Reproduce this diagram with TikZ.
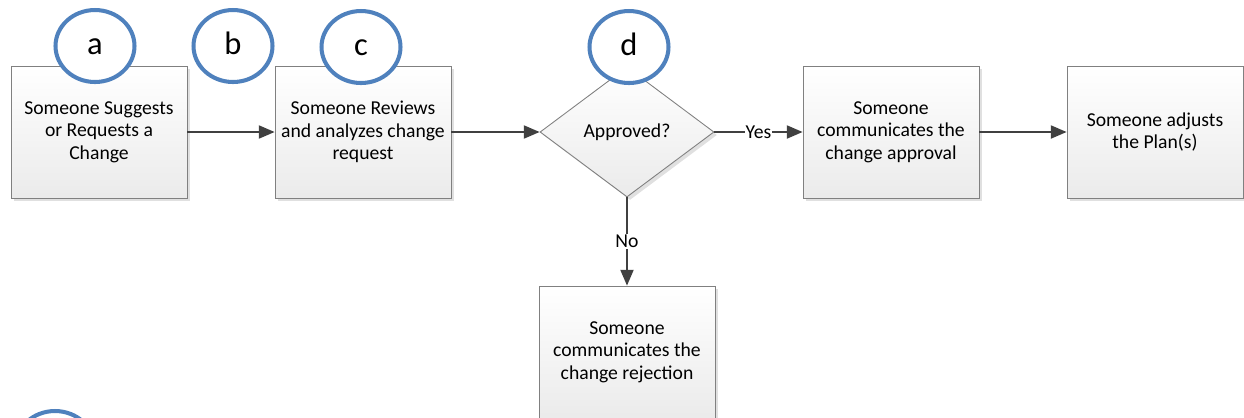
\documentclass[tikz,border=0pt]{standalone}
\usepackage{fontspec}
\setmainfont{Carlito}
\usetikzlibrary{arrows.meta,shapes.geometric,shadows}
\definecolor{markblue}{HTML}{4F81BD}
\definecolor{linegray}{HTML}{404040}
\definecolor{edgegray}{HTML}{808080}

\begin{document}
\begin{tikzpicture}[
    x=0.02cm, y=-0.02cm,
    txt/.style={font=\fontsize{11.2}{12.9}\selectfont},
    box/.style={draw=edgegray, line width=0.5pt, top color=white, bottom color=black!8, align=center, minimum width=3.52cm, minimum height=2.64cm, inner sep=2pt, txt, drop shadow={shadow xshift=0.06cm, shadow yshift=-0.06cm, fill=black!12, opacity=1}},
    decision/.style={box, diamond, aspect=1.34, minimum width=3.48cm, minimum height=2.6cm, inner sep=0pt},
    stepmark/.style={ellipse, draw=markblue, line width=2.3pt, fill=white, minimum width=1.58cm, minimum height=1.44cm, inner sep=0pt, text height=1em, text depth=0pt, font=\fontsize{18.5}{18.5}\selectfont},
    flow/.style={-{Triangle[length=9pt,width=7.5pt]}, draw=linegray, line width=0.9pt},
    lbl/.style={fill=white, inner sep=0.5pt, txt}
]
\useasboundingbox (0,0) rectangle (1244,417);
\clip (0,0) rectangle (1244,417);

% process steps
\node[box] (suggest) at (99,132) {Someone Suggests\\or Requests a\\Change};
\node[box] (review) at (363,132) {Someone Reviews\\and analyzes change\\request};
\node[decision] (approved) at (627,132) {Approved?};
\node[box] (approval) at (891,132) {Someone\\communicates the\\change approval};
\node[box] (adjust) at (1155,132) {Someone adjusts\\the Plan(s)};
\node[box] (rejection) at (627,352) {Someone\\communicates the\\change rejection};

\draw[flow] (suggest) -- (review);
\draw[flow] (review) -- (approved);
\draw[flow] (approved) -- node[lbl] {Yes} (approval);
\draw[flow] (approval) -- (adjust);
\draw[flow] (approved) -- node[lbl] {No} (rejection);

% step markers
\node[stepmark] (marka) at (95,46) {a};
\node[stepmark] (markb) at (233,46) {b};
\node[stepmark] (markc) at (361,47) {c};
\node[stepmark] (markd) at (629,47) {d};
\node[stepmark] (marke) at (55,447) {};
\end{tikzpicture}
\end{document}
